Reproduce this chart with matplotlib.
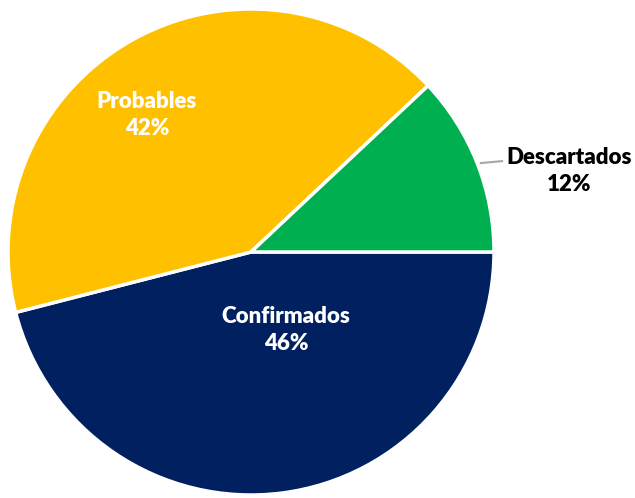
import matplotlib
matplotlib.use("Agg")
import matplotlib.pyplot as plt

# Datos
categorias = ["Confirmados", "Probables", "Descartados"]
valores = [46, 42, 12]
colores = ["#002060", "#FFC000", "#00B050"]

plt.rcParams['font.family'] = ['Lato', 'DejaVu Sans']

fig = plt.figure(figsize=(6.35, 4.98), dpi=100)
ax = fig.add_axes([8 / 635, 3 / 498, 486 / 635, 486 / 498])

ax.pie(valores, colors=colores, startangle=0, counterclock=False, radius=1,
       wedgeprops=dict(edgecolor="white", linewidth=2.5))
ax.set_xlim(-1, 1)
ax.set_ylim(-1, 1)
ax.axis("off")

# Etiquetas
pos = {"Confirmados": (0.144, -0.321), "Probables": (-0.428, 0.564), "Descartados": (1.309, 0.333)}
for cat, val in zip(categorias, valores):
    x, y = pos[cat]
    color = "black" if cat == "Descartados" else "white"
    ax.text(x, y, f"{cat}\n{val}%", ha="center", va="center", fontsize=16,
            fontweight="heavy", color=color, linespacing=1.35, clip_on=False)

# linea guia
ax.plot([0.946, 1.033], [0.366, 0.374], color="#A6A6A6", lw=1.5, clip_on=False)

fig.savefig("out.png", dpi=100, facecolor="white")
